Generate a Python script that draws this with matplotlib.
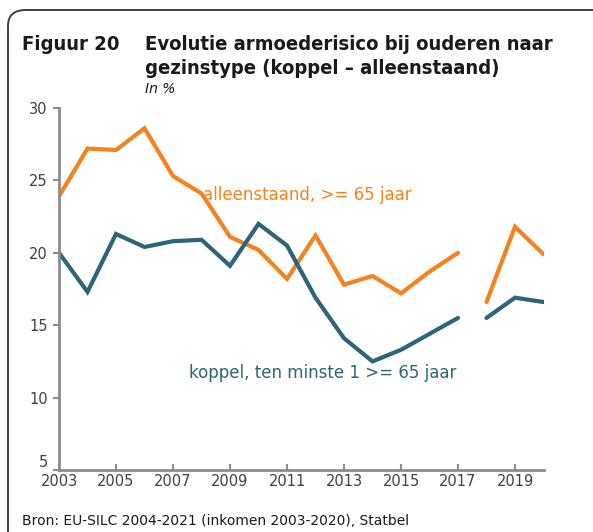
import numpy as np
import matplotlib
matplotlib.use("Agg")
import matplotlib.pyplot as plt
from matplotlib.patches import FancyBboxPatch

# data (break in series between 2017 and 2018)
years = np.arange(2003, 2021)
alleenstaand = [23.9, 27.2, 27.1, 28.6, 25.3, 24.1, 21.1, 20.2, 18.2, 21.2,
                17.8, 18.4, 17.2, 18.7, 20.0, 16.6, 21.8, 19.9]
koppel = [20.0, 17.3, 21.3, 20.4, 20.8, 20.9, 19.1, 22.0, 20.5, 16.9,
          14.1, 12.5, 13.3, 14.4, 15.5, 15.5, 16.9, 16.6]
break_after = 2017
xtick_years = [2003, 2005, 2007, 2009, 2011, 2013, 2015, 2017, 2019]
ytick_vals = [5, 10, 15, 20, 25, 30]

ORANGE = '#F5821F'
BLUE = '#2E6477'
GREY = '#8C8C8C'
TEXT = '#404040'

plt.rcParams['font.family'] = ['DejaVu Sans']

fig = plt.figure(figsize=(5.93, 5.32), dpi=100)
W, H = 593, 532

# frame with rounded top-left corner, running off the right and bottom edges
frame = FancyBboxPatch((8 / W, -0.2), 1.2, 1 - 10 / H + 0.2,
                       boxstyle="round,pad=0,rounding_size=0.03",
                       transform=fig.transFigure, fill=False,
                       edgecolor='#404040', linewidth=1.4, clip_on=False)
fig.patches.append(frame)

fig.text(22 / W, 1 - 45 / H, "Figuur 20", fontsize=14.5, fontweight='bold',
         color='#1a1a1a', va='center', fontstretch='condensed')
fig.text(145 / W, 1 - 45 / H, "Evolutie armoederisico bij ouderen naar",
         fontsize=14.5, fontweight='bold', color='#1a1a1a', va='center',
         fontstretch='condensed')
fig.text(145 / W, 1 - 69 / H, "gezinstype (koppel \u2013 alleenstaand)",
         fontsize=14.5, fontweight='bold', color='#1a1a1a', va='center',
         fontstretch='condensed')
fig.text(145 / W, 1 - 89 / H, "In %", fontsize=10, style='italic',
         color='#1a1a1a', va='center')
fig.text(22 / W, 1 - 521 / H, "Bron: EU-SILC 2004-2021 (inkomen 2003-2020), Statbel",
         fontsize=10, color='#1a1a1a', va='center')

ax = fig.add_axes([59 / W, 1 - 470 / H, (543.5 - 59) / W, (470 - 108) / H])

years_arr = np.array(years)
m1 = years_arr <= break_after
m2 = years_arr > break_after
a = np.array(alleenstaand)
k = np.array(koppel)
for m in (m1, m2):
    ax.plot(years_arr[m], a[m], color=ORANGE, lw=3, solid_capstyle='round',
            solid_joinstyle='miter')
    ax.plot(years_arr[m], k[m], color=BLUE, lw=3, solid_capstyle='round',
            solid_joinstyle='miter')

ax.text(2008.05, 24.0, "alleenstaand, >= 65 jaar", color=ORANGE, fontsize=12,
        va='center', ha='left')
ax.text(2007.55, 11.7, "koppel, ten minste 1 >= 65 jaar", color=BLUE,
        fontsize=12, va='center', ha='left')

ax.set_xlim(2003, 2020)
ax.set_ylim(5, 30)
ax.set_xticks(xtick_years)
ax.set_xticklabels([str(y) for y in xtick_years])
ax.set_yticks(ytick_vals)
ax.set_yticklabels([str(v) for v in ytick_vals])
# the bottom "5" sits slightly above its tick, as in the reference
ax.get_yticklabels()[0].set_va('bottom')

for side in ('top', 'right'):
    ax.spines[side].set_visible(False)
for side in ('left', 'bottom'):
    ax.spines[side].set_color(GREY)
    ax.spines[side].set_linewidth(2)

ax.tick_params(axis='y', direction='out', length=4, width=1.5, color=GREY,
               labelsize=10.5, labelcolor=TEXT, pad=4)
ax.tick_params(axis='x', direction='in', length=4, width=1.5, color=GREY,
               labelsize=10.5, labelcolor=TEXT, pad=3)
ax.patch.set_visible(False)

fig.savefig('out.png', dpi=100)
